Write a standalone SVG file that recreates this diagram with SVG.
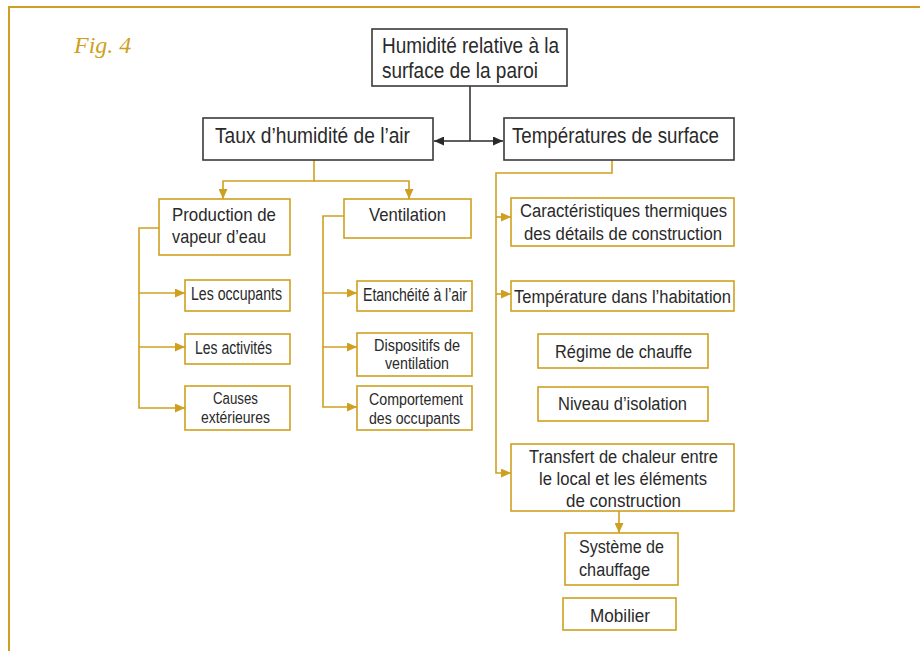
<svg xmlns="http://www.w3.org/2000/svg" width="920" height="651" viewBox="0 0 920 651">
<style>
.gb{fill:#fff;stroke:#cfa020;stroke-width:1.6}
.db{fill:#fff;stroke:#3a3a3a;stroke-width:1.6}
.gl{fill:none;stroke:#cfa020;stroke-width:1.6}
.dl{fill:none;stroke:#2a2a2a;stroke-width:1.5}
text{font-family:"Liberation Sans",Arial,sans-serif;fill:#2a2a2a}
.L{font-size:22px}
.M{font-size:19px}
.S{font-size:18px}
.T{font-size:16px}
.fig{font-family:"Liberation Serif","Times New Roman",serif;font-style:italic;font-size:24px;fill:#cfa020}
</style>
<defs>
<marker id="ag" markerUnits="userSpaceOnUse" markerWidth="11" markerHeight="9" refX="10" refY="4.5" orient="auto"><path d="M0,0 L10,4.5 L0,9 z" fill="#cfa020"/></marker>
<marker id="ad" markerUnits="userSpaceOnUse" markerWidth="11" markerHeight="9" refX="10" refY="4.5" orient="auto"><path d="M0,0 L10,4.5 L0,9 z" fill="#2a2a2a"/></marker>
</defs>
<rect width="920" height="651" fill="#fff"/>
<path d="M9,651 V7 H920" fill="none" stroke="#cfa020" stroke-width="2"/>
<text class="fig" x="74" y="53">Fig. 4</text>

<g id="connectors">
<path class="dl" d="M470,86 V141"/>
<path class="dl" d="M470,141 H434" marker-end="url(#ad)"/>
<path class="dl" d="M470,141 H503" marker-end="url(#ad)"/>
<path class="gl" d="M314,160 V181 H223 V199" marker-end="url(#ag)"/>
<path class="gl" d="M314,181 H409 V199" marker-end="url(#ag)"/>
<path class="gl" d="M159,228 H139 V408 H185" marker-end="url(#ag)"/>
<path class="gl" d="M139,293 H185" marker-end="url(#ag)"/>
<path class="gl" d="M139,347 H185" marker-end="url(#ag)"/>
<path class="gl" d="M344,216 H323 V407 H357" marker-end="url(#ag)"/>
<path class="gl" d="M323,293 H357" marker-end="url(#ag)"/>
<path class="gl" d="M323,347 H357" marker-end="url(#ag)"/>
<path class="gl" d="M612,160 V173 H496 V473 H511" marker-end="url(#ag)"/>
<path class="gl" d="M496,217 H511" marker-end="url(#ag)"/>
<path class="gl" d="M496,294 H511" marker-end="url(#ag)"/>
<path class="gl" d="M619,511 V533" marker-end="url(#ag)"/>
</g>

<g id="n-humidite">
<rect class="db" x="372" y="29" width="195" height="57"/>
<text class="L" x="382" y="53" textLength="177" lengthAdjust="spacingAndGlyphs">Humidité relative à la</text>
<text class="L" x="382" y="78" textLength="156" lengthAdjust="spacingAndGlyphs">surface de la paroi</text>
</g>
<g id="n-taux">
<rect class="db" x="203" y="118" width="230" height="42"/>
<text class="L" x="215" y="143" textLength="195" lengthAdjust="spacingAndGlyphs">Taux d’humidité de l’air</text>
</g>
<g id="n-temp">
<rect class="db" x="504" y="118" width="230" height="42"/>
<text class="L" x="512" y="143" textLength="207" lengthAdjust="spacingAndGlyphs">Températures de surface</text>
</g>

<g id="n-production">
<rect class="gb" x="159" y="199" width="131" height="56"/>
<text class="M" x="172" y="221" textLength="104" lengthAdjust="spacingAndGlyphs">Production de</text>
<text class="M" x="172" y="243" textLength="94" lengthAdjust="spacingAndGlyphs">vapeur d’eau</text>
</g>
<g id="n-ventilation">
<rect class="gb" x="344" y="199" width="127" height="39"/>
<text class="M" x="369" y="221" textLength="77" lengthAdjust="spacingAndGlyphs">Ventilation</text>
</g>

<g id="n-occupants">
<rect class="gb" x="185" y="280" width="105" height="31"/>
<text class="S" x="191" y="300" textLength="91" lengthAdjust="spacingAndGlyphs">Les occupants</text>
</g>
<g id="n-activites">
<rect class="gb" x="185" y="334" width="105" height="30"/>
<text class="S" x="195" y="354" textLength="77" lengthAdjust="spacingAndGlyphs">Les activités</text>
</g>
<g id="n-causes">
<rect class="gb" x="185" y="386" width="105" height="44"/>
<text class="T" x="213" y="404" textLength="45" lengthAdjust="spacingAndGlyphs">Causes</text>
<text class="T" x="201" y="423" textLength="69" lengthAdjust="spacingAndGlyphs">extérieures</text>
</g>

<g id="n-etancheite">
<rect class="gb" x="357" y="281" width="115" height="30"/>
<text class="S" x="363" y="301" textLength="104" lengthAdjust="spacingAndGlyphs">Etanchéité à l’air</text>
</g>
<g id="n-dispositifs">
<rect class="gb" x="357" y="333" width="115" height="43"/>
<text class="T" x="374" y="351" textLength="86" lengthAdjust="spacingAndGlyphs">Dispositifs de</text>
<text class="T" x="385" y="369" textLength="64" lengthAdjust="spacingAndGlyphs">ventilation</text>
</g>
<g id="n-comportement">
<rect class="gb" x="357" y="386" width="115" height="44"/>
<text class="T" x="369" y="405" textLength="94" lengthAdjust="spacingAndGlyphs">Comportement</text>
<text class="T" x="369" y="424" textLength="91" lengthAdjust="spacingAndGlyphs">des occupants</text>
</g>

<g id="n-caracteristiques">
<rect class="gb" x="511" y="198" width="223" height="48"/>
<text class="S" x="520" y="217" textLength="207" lengthAdjust="spacingAndGlyphs">Caractéristiques thermiques</text>
<text class="S" x="524" y="240" textLength="198" lengthAdjust="spacingAndGlyphs">des détails de construction</text>
</g>
<g id="n-temperature">
<rect class="gb" x="511" y="281" width="223" height="30"/>
<text class="S" x="514" y="303" textLength="217" lengthAdjust="spacingAndGlyphs">Température dans l’habitation</text>
</g>
<g id="n-regime">
<rect class="gb" x="538" y="334" width="170" height="34"/>
<text class="S" x="555" y="358" textLength="137" lengthAdjust="spacingAndGlyphs">Régime de chauffe</text>
</g>
<g id="n-niveau">
<rect class="gb" x="538" y="387" width="170" height="34"/>
<text class="S" x="558" y="410" textLength="129" lengthAdjust="spacingAndGlyphs">Niveau d’isolation</text>
</g>
<g id="n-transfert">
<rect class="gb" x="511" y="444" width="223" height="67"/>
<text class="S" x="529" y="463" textLength="189" lengthAdjust="spacingAndGlyphs">Transfert de chaleur entre</text>
<text class="S" x="539" y="485" textLength="168" lengthAdjust="spacingAndGlyphs">le local et les éléments</text>
<text class="S" x="566" y="507" textLength="115" lengthAdjust="spacingAndGlyphs">de construction</text>
</g>
<g id="n-systeme">
<rect class="gb" x="565" y="533" width="113" height="52"/>
<text class="S" x="579" y="553" textLength="85" lengthAdjust="spacingAndGlyphs">Système de</text>
<text class="S" x="579" y="576" textLength="71" lengthAdjust="spacingAndGlyphs">chauffage</text>
</g>
<g id="n-mobilier">
<rect class="gb" x="563" y="598" width="113" height="32"/>
<text class="S" x="590" y="622" textLength="60" lengthAdjust="spacingAndGlyphs">Mobilier</text>
</g>
</svg>
